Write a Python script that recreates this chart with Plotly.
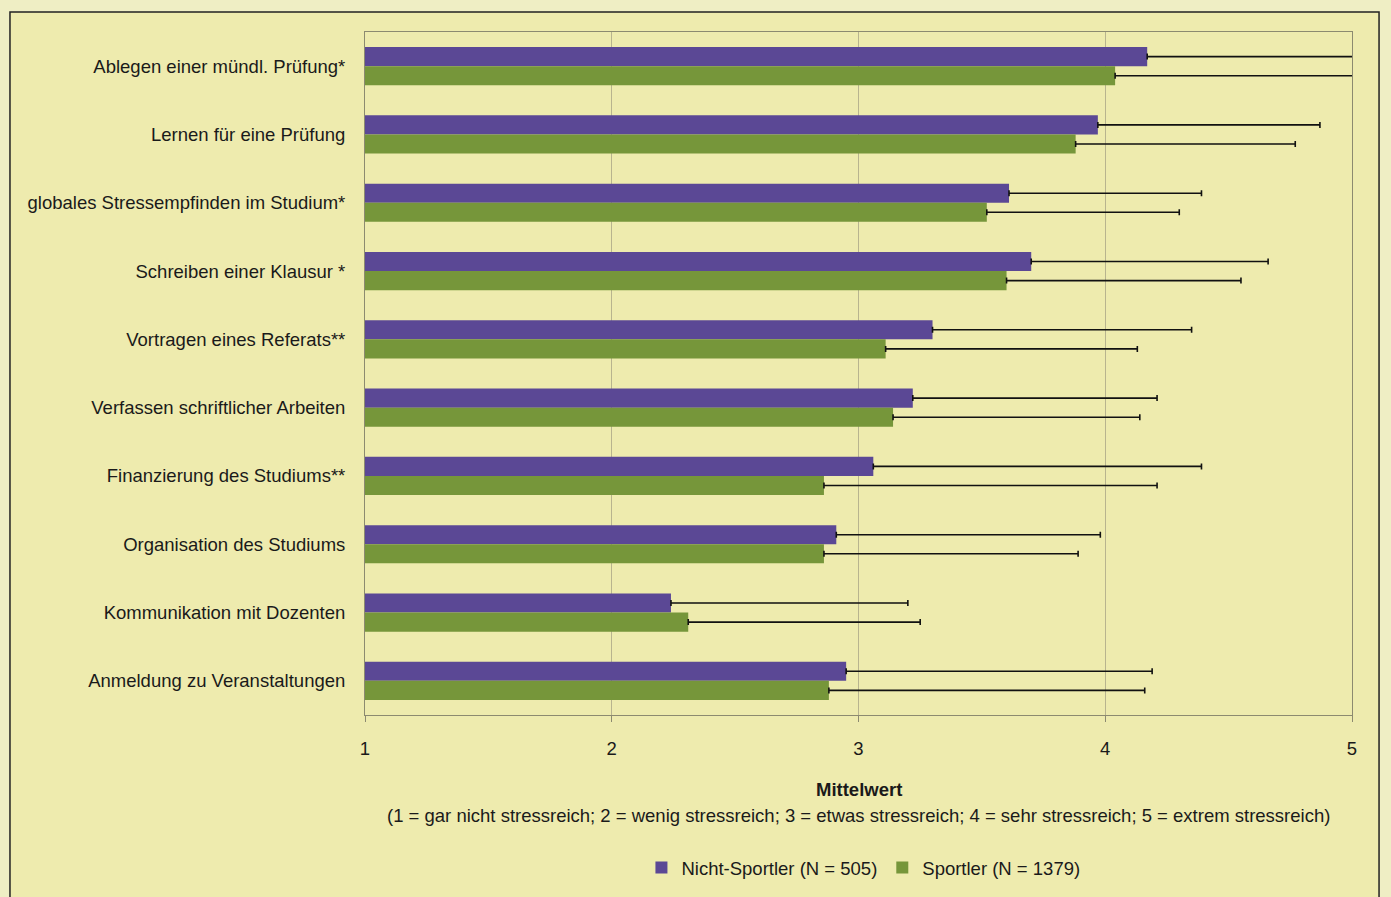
import plotly.graph_objects as go

categories = [
    "Ablegen einer mündl. Prüfung*",
    "Lernen für eine Prüfung",
    "globales Stressempfinden im Studium*",
    "Schreiben einer Klausur *",
    "Vortragen eines Referats**",
    "Verfassen schriftlicher Arbeiten",
    "Finanzierung des Studiums**",
    "Organisation des Studiums",
    "Kommunikation mit Dozenten",
    "Anmeldung zu Veranstaltungen",
]
nicht_sportler_mean = [4.17, 3.97, 3.61, 3.70, 3.30, 3.22, 3.06, 2.91, 2.24, 2.95]
nicht_sportler_sd = [0.90, 0.90, 0.78, 0.96, 1.05, 0.99, 1.33, 1.07, 0.96, 1.24]
sportler_mean = [4.04, 3.88, 3.52, 3.60, 3.11, 3.14, 2.86, 2.86, 2.31, 2.88]
sportler_sd = [0.98, 0.89, 0.78, 0.95, 1.02, 1.00, 1.35, 1.03, 0.94, 1.28]
x_ticks = [1, 2, 3, 4, 5]
series_names = ["Nicht-Sportler (N = 505)", "Sportler (N = 1379)"]

FONT = "Liberation Sans Narrow, Arial Narrow, Liberation Sans, Arial, sans-serif"
PURPLE = "#5B4895"
GREEN = "#76963A"
INNER = "#EEEBAE"
OUTER = "#EFEEC4"
FS = 18.5

fig = go.Figure()
for name, means, sds, color in [
    (series_names[0], nicht_sportler_mean, nicht_sportler_sd, PURPLE),
    (series_names[1], sportler_mean, sportler_sd, GREEN),
]:
    fig.add_trace(go.Bar(
        y=categories, x=means, name=name, orientation="h",
        marker=dict(color=color, line=dict(width=0)),
        error_x=dict(type="data", symmetric=False, array=sds,
                     arrayminus=[0] * len(sds), color="#111111",
                     thickness=1.6, width=3),
    ))

fig.update_layout(
    width=1391, height=897,
    barmode="group", bargap=0.44, bargroupgap=0,
    paper_bgcolor=OUTER, plot_bgcolor=INNER,
    margin=dict(l=365, r=39, t=32, b=182, autoexpand=False),
    font=dict(family=FONT, size=FS, color="#1a1a1a"),
    showlegend=True,
    legend=dict(orientation="h", x=0.505, xanchor="center",
                yref="container", y=0.0323, yanchor="middle",
                font=dict(size=FS), itemwidth=30,
                bgcolor="rgba(0,0,0,0)", traceorder="normal"),
    xaxis=dict(range=[1, 5], tickvals=x_ticks, showgrid=True,
               gridcolor="#B8B48E", gridwidth=1, zeroline=False,
               ticks="outside", ticklen=6, tickcolor="#8C8A70",
               showline=True, linecolor="#8C8A70", mirror=True,
               ticklabelstandoff=11, tickfont=dict(size=FS)),
    yaxis=dict(autorange="reversed", showgrid=False, showline=True,
               linecolor="#8C8A70", mirror=True, ticks="",
               ticklabelstandoff=15, tickfont=dict(size=FS)),
    shapes=[dict(type="rect", xref="paper", yref="paper",
                 x0=-0.3597, x1=1.0274, y0=-0.30, y1=1.0293,
                 line=dict(color="#222222", width=1.5),
                 fillcolor=INNER, layer="below")],
    annotations=[
        dict(text="<b>Mittelwert</b>", xref="paper", yref="paper",
             x=0.5, y=-0.1094, xanchor="center", yanchor="middle",
             showarrow=False, font=dict(size=FS)),
        dict(text="(1 = gar nicht stressreich; 2 = wenig stressreich; 3 = etwas stressreich; 4 = sehr stressreich; 5 = extrem stressreich)",
             xref="paper", yref="paper", x=0.5, y=-0.147,
             xanchor="center", yanchor="middle", showarrow=False,
             font=dict(size=FS)),
    ],
)

fig.write_html(
    "out.html",
    config={"displayModeBar": False},
    post_script="document.body.style.margin='0';document.body.style.background='%s';" % OUTER,
)
